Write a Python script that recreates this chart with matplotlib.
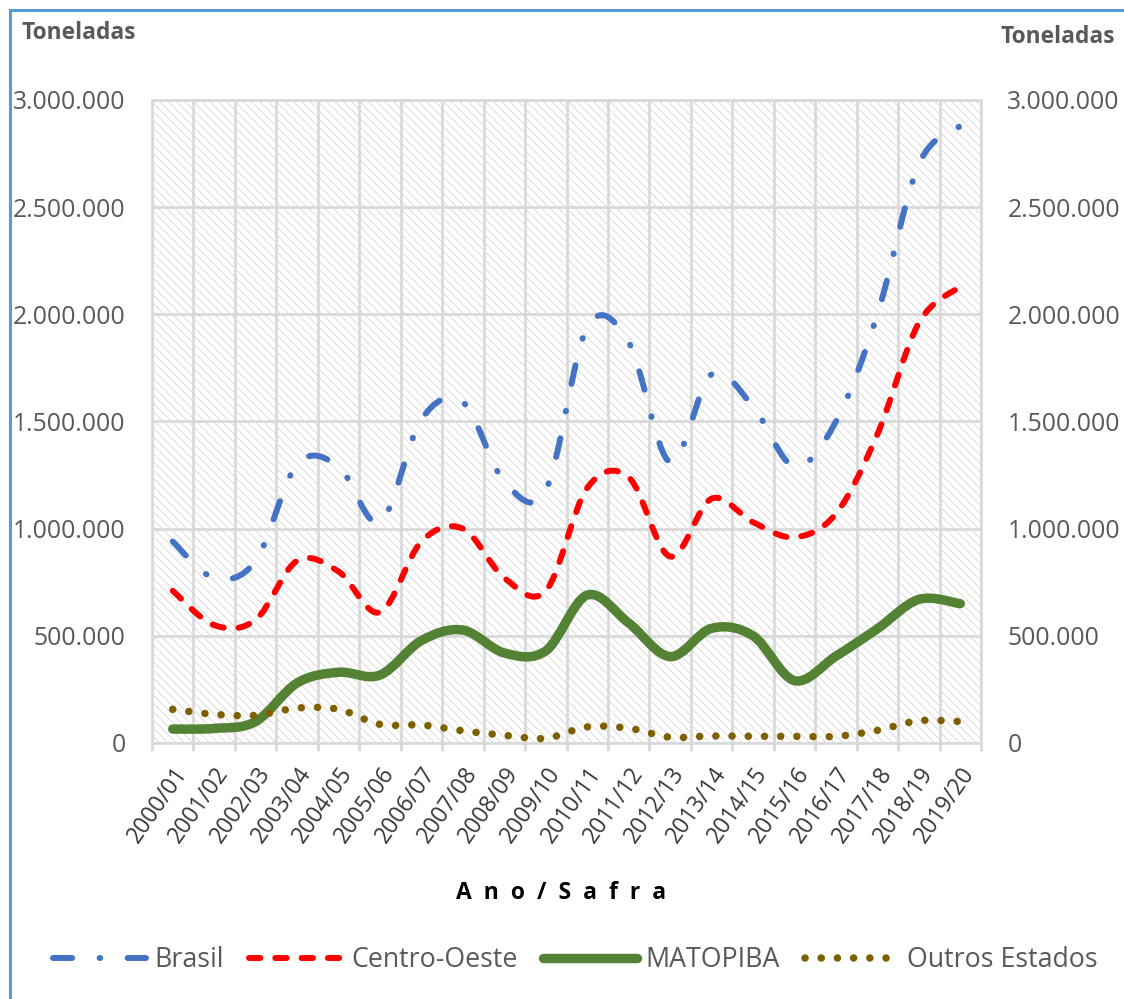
import numpy as np
import matplotlib
matplotlib.use("Agg")
import matplotlib.pyplot as plt
from matplotlib.path import Path
from matplotlib.patches import PathPatch, Rectangle
from matplotlib.lines import Line2D
from matplotlib.ticker import FuncFormatter

plt.rcParams['font.family'] = ['Open Sans', 'DejaVu Sans']
plt.rcParams['hatch.linewidth'] = 0.55

# Dados (toneladas)
safras = ['2000/01', '2001/02', '2002/03', '2003/04', '2004/05', '2005/06',
          '2006/07', '2007/08', '2008/09', '2009/10', '2010/11', '2011/12',
          '2012/13', '2013/14', '2014/15', '2015/16', '2016/17', '2017/18',
          '2018/19', '2019/20']
brasil = [940000, 770000, 850000, 1300000, 1290000, 1030000, 1510000, 1590000,
          1220000, 1180000, 1940000, 1870000, 1310000, 1720000, 1570000,
          1290000, 1500000, 2000000, 2700000, 2880000]
centro_oeste = [710000, 550000, 575000, 850000, 800000, 610000, 940000, 1000000,
                770000, 710000, 1190000, 1240000, 870000, 1140000, 1030000,
                960000, 1070000, 1440000, 1960000, 2130000]
matopiba = [65000, 68000, 100000, 280000, 330000, 317000, 478000, 527000,
            420000, 430000, 690000, 560000, 403000, 535000, 500000, 291000,
            405000, 533000, 670000, 650000]
outros = [157000, 134000, 129000, 163000, 157000, 87000, 84000, 57000,
          36000, 22000, 75000, 69000, 27000, 33000, 31000, 31000, 31000,
          59000, 104000, 100000]
y_ticks = [0, 500000, 1000000, 1500000, 2000000, 2500000, 3000000]

series = [
    ("Brasil", brasil, dict(color="#4472C4", lw=4.3, ls=(0, (3.2, 4.6, 0.1, 4.6)))),
    ("Centro-Oeste", centro_oeste, dict(color="#FF0000", lw=4.3, ls=(0, (1.9, 2.5)))),
    ("MATOPIBA", matopiba, dict(color="#548235", lw=6.8, ls="-")),
    ("Outros Estados", outros, dict(color="#7F6000", lw=5.4, ls=(0, (0.01, 2.15)))),
]


def smooth_path(xs, ys):
    # curva suavizada tipo Excel (Bezier / Catmull-Rom)
    pts = np.column_stack([xs, ys]).astype(float)
    n = len(pts)
    verts = [pts[0]]
    codes = [Path.MOVETO]
    for i in range(n - 1):
        p0 = pts[max(i - 1, 0)]
        p1 = pts[i]
        p2 = pts[i + 1]
        p3 = pts[min(i + 2, n - 1)]
        verts += [p1 + (p2 - p0) / 6, p2 - (p3 - p1) / 6, p2]
        codes += [Path.CURVE4] * 3
    return Path(verts, codes)


W, H = 1124, 999
fig = plt.figure(figsize=(W / 100, H / 100), dpi=100)
ax = fig.add_axes([152 / W, 1 - 743 / H, (981 - 152) / W, (743 - 100) / H])

grid_c = "#D9D9D9"
ax.add_patch(Rectangle((0, 0), 1, 1, transform=ax.transAxes, facecolor="white",
                       edgecolor="#d2d2d2", hatch="\\\\\\\\", lw=0, zorder=0))
ax.set_axisbelow(True)

x = np.arange(len(safras)) + 0.5
handles = []
for name, vals, st in series:
    patch = PathPatch(smooth_path(x, vals), fill=False, edgecolor=st["color"],
                      lw=st["lw"], linestyle=st["ls"], capstyle="round",
                      joinstyle="round", zorder=3)
    ax.add_patch(patch)
    handles.append(Line2D([], [], color=st["color"], lw=st["lw"], linestyle=st["ls"],
                          dash_capstyle="round", solid_capstyle="round", label=name))

ax.set_xlim(0, len(safras))
ax.set_ylim(0, 3000000)

ax.set_xticks(np.arange(len(safras) + 1))
ax.set_xticklabels([])
ax.set_xticks(x, minor=True)
ax.set_xticklabels(safras, minor=True, fontsize=16.5, color="#383838")
for lbl in ax.get_xticklabels(minor=True):
    lbl.set_rotation(55)
    lbl.set_ha("right")
    lbl.set_va("top")
    lbl.set_rotation_mode("anchor")
ax.tick_params(axis="x", which="major", length=6, width=2, color=grid_c, direction="out")
ax.tick_params(axis="x", which="minor", length=0, pad=14)

ax.set_yticks(y_ticks)
ax.yaxis.set_major_formatter(FuncFormatter(lambda v, p: f"{v:,.0f}".replace(",", ".")))
ax.tick_params(axis="y", length=0, pad=19, labelsize=17.8, labelcolor="#595959",
               labelleft=True, labelright=True)

ax.grid(True, axis="x", which="major", color=grid_c, lw=2)
ax.grid(True, axis="y", which="major", color=grid_c, lw=2)
for sp in ax.spines.values():
    sp.set_color(grid_c)
    sp.set_linewidth(2)

fig.text(21 / W, 1 - 33 / H, "Toneladas", ha="left", va="center", fontsize=16.4,
         fontweight="bold", color="#595959")
fig.text(1115 / W, 1 - 37 / H, "Toneladas", ha="right", va="center", fontsize=16.4,
         fontweight="bold", color="#595959")
fig.text(561 / W, 1 - 893 / H, "A  n  o  /  S  a  f  r  a", ha="center",
         va="center", fontsize=16.5, fontweight="bold", color="black")

fig.legend(handles=handles, loc="center", bbox_to_anchor=(575 / W, 1 - 960 / H),
           ncol=4, frameon=False, fontsize=19.3, labelcolor="#595959",
           handlelength=3.5, handletextpad=0.3, columnspacing=0.95)

# moldura azul
fig.add_artist(Rectangle((10 / W, -0.05), 1.1, 1.05 - 9.5 / H, transform=fig.transFigure,
                         fill=False, edgecolor="#5B9BD5", lw=2.2))

fig.savefig("out.png", dpi=100)
